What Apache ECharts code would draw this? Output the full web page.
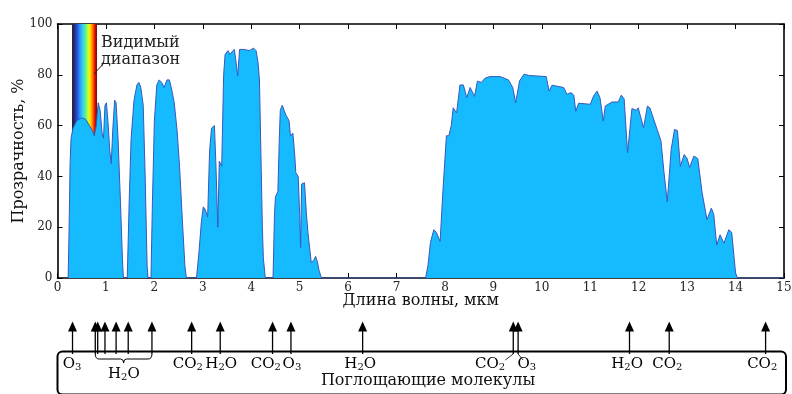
<!DOCTYPE html>
<html><head><meta charset="utf-8">
<script src="https://cdn.jsdelivr.net/npm/echarts@6/dist/echarts.min.js"></script>
<style>html,body{margin:0;padding:0;background:#fff}#c{width:792px;height:394px}</style>
</head><body><div id="c"></div>
<script>
// ---- data ----
const wavelength = [0.22,0.24,0.26,0.28,0.32,0.4,0.5,0.58,0.66,0.72,0.76,0.8,0.84,0.88,0.92,0.95,0.98,1.01,1.04,1.08,1.11,1.14,1.18,1.21,1.25,1.3,1.34,1.36,
1.44,1.48,1.52,1.58,1.64,1.68,1.72,1.77,1.81,1.85,1.87,
1.93,1.96,2.0,2.05,2.1,2.15,2.2,2.26,2.31,2.36,2.41,2.47,2.52,2.58,2.63,2.66,
2.87,2.92,2.97,3.01,3.05,3.1,3.14,3.18,3.24,3.27,3.31,3.34,3.39,3.43,3.46,3.52,3.56,3.6,3.65,3.68,3.72,3.76,3.86,3.96,4.05,4.1,4.14,4.17,4.2,4.23,4.25,4.29,
4.45,4.48,4.5,4.55,4.58,4.6,4.64,4.68,4.72,4.78,4.81,4.86,4.9,4.92,4.97,5.0,5.02,5.04,5.1,5.14,5.17,5.24,5.29,5.33,5.37,5.4,5.45,
7.6,7.65,7.7,7.77,7.82,7.9,7.96,8.03,8.08,8.13,8.17,8.24,8.31,8.38,8.45,8.52,8.61,8.67,8.75,8.83,8.93,9.14,9.31,9.4,9.46,9.54,9.63,9.75,10.09,10.15,10.21,10.45,10.52,10.6,10.66,10.7,10.76,11.0,11.07,11.14,11.2,11.27,11.31,11.45,11.58,11.64,11.7,11.77,11.8,11.86,11.95,11.99,12.03,12.1,12.18,12.23,12.38,12.46,12.52,12.59,12.62,12.67,12.74,12.8,12.86,12.94,13.0,13.05,13.14,13.22,13.31,13.41,13.5,13.55,13.61,13.68,13.76,13.86,13.92,14.0,14.04,15];
const transmission = [0,20,45,55,59,62,63,62.5,60,58,56,60,69,66,57,55,68,69,62,50,45,58,70,69,55,30,8,0,
0,30,55,70,76,77,75,68,40,5,0,
0,30,62,76,78,77,75,78,78,74,69,58,44,22,5,0,
0,10,22,28,27,24,50,59,60,45,20,46,44,80,88,89.5,88,89,90,86,79.5,90,90,89.5,90.5,89.5,85,78,49,20,8,0,
0,25,32,34,55,66,68,66,64,62,56,57,48,41.5,40,25,12,37,37.5,25,18,6,7,8.5,6,3,0,
0,5,14,19,18,14.4,35,56,56,60,67,65,76,76,71,75,71.5,77.5,77,78.7,79.3,79.3,78,75,69,77.6,80.2,79.7,79.3,73.6,75.9,75,72.3,73,72,65.7,68.8,68.4,71.7,73.6,71,61.8,67.7,69.3,69.3,72,70.5,49.3,50,66.7,66,67,66.4,59.2,67.7,67,58.5,54,42,30,30,50.6,58.5,58,44,48.6,47,43.5,48,47,33.5,23,27.5,25,13,17,13.7,19,18,2,0,0];
const xTicks = [0,1,2,3,4,5,6,7,8,9,10,11,12,13,14,15];
const yTicks = [0,20,40,60,80,100];
const visibleRange = [0.30, 0.815];
const visibleText = 'Видимый\nдиапазон';
const xName = 'Длина волны, мкм';
const yName = 'Прозрачность, %';
const absorberWave = [0.31,0.78,0.83,0.98,1.21,1.46,1.95,2.77,3.36,4.44,4.82,6.30,9.41,9.51,11.81,12.63,14.62];
const waterBand = [0.78, 1.95];
const labelFormula = ['O_3','H_2O','CO_2','H_2O','CO_2','O_3','H_2O','CO_2','O_3','H_2O','CO_2','CO_2'];
const labelWave =    [0.30, 1.37, 2.69, 3.38, 4.30, 4.84, 6.25, 8.93, 9.69, 11.76, 12.59, 14.55];
const boxTitle = 'Поглощающие молекулы';

// ---- chart ----
const FF = 'DejaVu Serif';
const chart = echarts.init(document.getElementById('c'), null, {renderer:'canvas'});
const pairs = wavelength.map((w,i)=>[w, transmission[i]]);
const axisCommonX = {type:'value', min:xTicks[0], max:xTicks[xTicks.length-1], interval:1,
  splitLine:{show:false}, axisLine:{onZero:false, lineStyle:{color:'#000', width:1.6}},
  axisTick:{inside:true, length:5, lineStyle:{color:'#000', width:1}}};
const axisCommonY = {type:'value', min:yTicks[0], max:yTicks[yTicks.length-1], interval:20,
  splitLine:{show:false}, axisLine:{onZero:false, lineStyle:{color:'#000', width:1.6}},
  axisTick:{inside:true, length:5, lineStyle:{color:'#000', width:1}}};
const rainbow = new echarts.graphic.LinearGradient(0,0,1,0,[
  {offset:0,color:'#1c1c28'},{offset:0.08,color:'#262a6a'},{offset:0.2,color:'#1f4fd8'},
  {offset:0.32,color:'#2f96ff'},{offset:0.44,color:'#30d8e8'},{offset:0.55,color:'#60f090'},
  {offset:0.64,color:'#c8ff30'},{offset:0.72,color:'#ffe800'},{offset:0.82,color:'#ff8000'},
  {offset:0.9,color:'#f01800'},{offset:1,color:'#700000'}]);

chart.setOption({
  animation:false,
  backgroundColor:'#fff',
  grid:{left:57.5, right:8, top:24, bottom:116, containLabel:false, outerBoundsMode:'none'},
  xAxis:[
    Object.assign({}, axisCommonX, {position:'bottom',
      axisLabel:{color:'#222', fontFamily:FF, fontSize:12, margin:4},
      name:xName, nameLocation:'middle', nameGap:15, nameMoveOverlap:false,
      nameTextStyle:{color:'#111', fontFamily:FF, fontSize:16}}),
    Object.assign({}, axisCommonX, {position:'top', axisLabel:{show:false}})
  ],
  yAxis:[
    Object.assign({}, axisCommonY, {position:'left',
      axisLabel:{color:'#222', fontFamily:FF, fontSize:12, margin:5},
      name:yName, nameLocation:'middle', nameGap:31, nameMoveOverlap:false,
      nameTextStyle:{color:'#111', fontFamily:FF, fontSize:16}}),
    Object.assign({}, axisCommonY, {position:'right', axisLabel:{show:false}})
  ],
  series:[
    {type:'line', data:[[visibleRange[0],0]], z:1, showSymbol:false, symbol:'none',
     lineStyle:{width:0}, silent:true,
     markArea:{silent:true, itemStyle:{color:rainbow}, data:[[{xAxis:visibleRange[0], yAxis:yTicks[0]},{xAxis:visibleRange[1], yAxis:yTicks[yTicks.length-1]}]]}},
    {type:'line', data:pairs, z:2, showSymbol:false, symbol:'none', smooth:false,
     lineStyle:{color:'#3a58b8', width:1}, areaStyle:{color:'#15baff', opacity:1}}
  ]
});

// ---- annotations (positions via the axis scale) ----
const px = w => chart.convertToPixel({xAxisIndex:0}, w);
const py = v => chart.convertToPixel({yAxisIndex:0}, v);
const g = [];
// visible label
const vx = px(visibleRange[1]);
const vTop = py(yTicks[yTicks.length-1]);
g.push({type:'text', x:vx+4, y:vTop+10, style:{text:visibleText, font:'16px "DejaVu Serif"', fill:'#222', lineHeight:17, verticalAlign:'top'}, z:10});
g.push({type:'line', shape:{x1:vx+7, y1:vTop+39, x2:vx-3, y2:vTop+50}, style:{stroke:'#222', lineWidth:1}, z:10});

// absorption box
const boxL = px(xTicks[0]), boxR = px(xTicks[xTicks.length-1])+2;
const boxTop = 351.5;
g.push({type:'rect', shape:{x:boxL, y:boxTop, width:boxR-boxL, height:43, r:5}, style:{fill:'none', stroke:'#000', lineWidth:2}, z:5});
absorberWave.forEach(w=>{
  const x = px(w);
  g.push({type:'line', shape:{x1:x, y1:354, x2:x, y2:330}, style:{stroke:'#000', lineWidth:1.3}, z:6});
  g.push({type:'polygon', shape:{points:[[x,321.5],[x-4.5,331.5],[x+4.5,331.5]]}, style:{fill:'#000'}, z:6});
});
// brace for water band
const bl = px(waterBand[0]), br = px(waterBand[1]), bm = (bl+br)/2;
const braceStyle = {fill:'none', stroke:'#000', lineWidth:1};
g.push({type:'bezierCurve', z:6, shape:{x1:bl, y1:354, cpx1:bl, cpy1:359, x2:bl+4, y2:359}, style:braceStyle});
g.push({type:'line', z:6, shape:{x1:bl+4, y1:359, x2:bm-3, y2:359}, style:braceStyle});
g.push({type:'bezierCurve', z:6, shape:{x1:bm-3, y1:359, cpx1:bm, cpy1:359, x2:bm, y2:363}, style:braceStyle});
g.push({type:'bezierCurve', z:6, shape:{x1:bm, y1:363, cpx1:bm, cpy1:359, x2:bm+3, y2:359}, style:braceStyle});
g.push({type:'line', z:6, shape:{x1:bm+3, y1:359, x2:br-4, y2:359}, style:braceStyle});
g.push({type:'bezierCurve', z:6, shape:{x1:br-4, y1:359, cpx1:br, cpy1:359, x2:br, y2:354}, style:braceStyle});
// leaders for close pair
g.push({type:'line', shape:{x1:px(absorberWave[12]), y1:354, x2:px(absorberWave[12])-8, y2:360}, style:{stroke:'#000', lineWidth:0.8}, z:6});
g.push({type:'line', shape:{x1:px(absorberWave[13]), y1:354, x2:px(absorberWave[13])+5, y2:360}, style:{stroke:'#000', lineWidth:0.8}, z:6});

function richFormula(f){
  const parts = f.split('_');
  if (parts.length===1) return '{n|'+f+'}';
  const main1 = parts[0];
  const rest = parts[1];
  const sub = rest[0];
  const main2 = rest.slice(1);
  return '{n|'+main1+'}{s|'+sub+'}'+(main2?'{n|'+main2+'}':'');
}
const rich = {n:{fontFamily:FF, fontSize:15, lineHeight:16, color:'#111'},
              s:{fontFamily:FF, fontSize:10, lineHeight:8, color:'#111', verticalAlign:'bottom'}};
labelFormula.forEach((f,i)=>{
  const isBand = (i===1);
  const x = px(labelWave[i]);
  const y = isBand ? 374 : 364;
  g.push({type:'text', x:x, y:y, z:7, style:{text:richFormula(f), rich:rich, align:'center', verticalAlign:'middle'}});
});
g.push({type:'text', x:px(7.65), y:381, z:7, style:{text:boxTitle, font:'16px "DejaVu Serif"', fill:'#111', align:'center', verticalAlign:'middle'}});

chart.setOption({graphic:g});
</script></body></html>
